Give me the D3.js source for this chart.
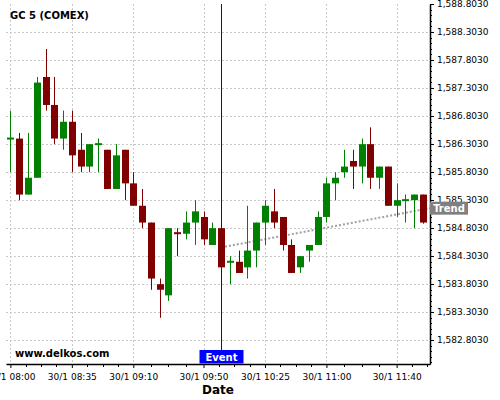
<!DOCTYPE html>
<html><head><meta charset="utf-8">
<script src="https://cdn.jsdelivr.net/npm/d3@7"></script>
<style>
body{margin:0;background:#fff}
svg{display:block}
text{font-family:"DejaVu Sans",sans-serif}
</style>
</head><body>
<svg id="chart" width="500" height="400"></svg>
<script>
// ---- data ----
const times = ["08:00","08:05","08:10","08:15","08:20","08:25","08:30","08:35","08:40","08:45","08:50","08:55",
  "09:00","09:05","09:10","09:15","09:20","09:25","09:30","09:35","09:40","09:45","09:50","09:55",
  "10:00","10:05","10:10","10:15","10:20","10:25","10:30","10:35","10:40","10:45","10:50","10:55",
  "11:00","11:05","11:10","11:15","11:20","11:25","11:30","11:35","11:40","11:45","11:50","11:55"];
const opens  = [1586.4,1586.4,1585.4,1585.7,1587.5,1587.0,1586.4,1586.7,1586.2,1585.9,1586.3,1586.2,
  1585.5,1586.2,1585.6,1585.2,1584.9,1583.8,1583.6,1584.72,1584.7,1584.9,1585.0,1584.5,
  1584.8,1584.2,1584.2,1584.1,1584.4,1584.9,1585.1,1585.0,1584.5,1584.1,1584.4,1584.5,
  1585.0,1585.6,1585.8,1586.0,1585.9,1586.3,1585.7,1585.9,1585.2,1585.3,1585.3,1585.4];
const highs  = [1586.9,1586.5,1586.5,1587.5,1588.0,1587.5,1586.9,1586.9,1586.5,1586.3,1586.4,1586.2,
  1586.3,1586.2,1585.8,1585.5,1584.9,1583.9,1584.8,1584.8,1585.1,1585.3,1585.1,1584.9,
  1584.8,1584.3,1584.4,1585.2,1584.9,1585.3,1585.5,1585.0,1584.6,1584.3,1584.5,1585.1,
  1585.7,1585.8,1586.2,1586.2,1586.4,1586.6,1585.9,1585.9,1585.6,1585.4,1585.4,1585.4];
const lows   = [1585.8,1585.3,1585.4,1585.7,1586.9,1586.3,1586.2,1585.8,1585.8,1585.8,1585.8,1585.5,
  1585.5,1585.3,1585.2,1584.8,1583.7,1583.2,1583.5,1584.3,1584.6,1584.5,1584.5,1584.5,
  1584.1,1583.8,1584.0,1583.9,1584.1,1584.5,1584.8,1584.4,1584.0,1584.0,1584.2,1584.5,
  1584.9,1585.3,1585.7,1585.5,1585.6,1585.5,1585.5,1585.2,1585.0,1584.9,1584.8,1584.88];
const closes = [1586.4,1585.4,1585.7,1587.4,1587.0,1586.4,1586.7,1586.1,1585.9,1586.3,1586.3,1585.5,
  1586.1,1585.6,1585.2,1584.9,1583.9,1583.7,1584.8,1584.70,1584.9,1585.1,1584.6,1584.8,
  1584.1,1584.2,1584.0,1584.4,1584.9,1585.2,1584.9,1584.5,1584.0,1584.3,1584.5,1585.0,
  1585.6,1585.7,1585.9,1585.9,1586.3,1585.7,1585.9,1585.2,1585.3,1585.3,1585.4,1584.9];

const xTickTimes  = ["08:00","08:35","09:10","09:50","10:25","11:00","11:40"];
const xTickLabels = ["30/1 08:00","30/1 08:35","30/1 09:10","30/1 09:50","30/1 10:25","30/1 11:00","30/1 11:40"];
const yTickValues = [1582.803,1583.303,1583.803,1584.303,1584.803,1585.303,1585.803,1586.303,1586.803,1587.303,1587.803,1588.303,1588.803];

const eventTime = "10:00";
const eventLabel = "Event";
const trendTimes = ["10:00","11:59"];
const trendValues = [1584.456, 1585.157];
const trendLabel = "Trend";
const title = "GC 5 (COMEX)";
const watermark = "www.delkos.com";
const xTitle = "Date";

// ---- layout ----
const svg = d3.select("#chart");
const pL = 6, pR = 430, pT = 4, pB = 364;
const parseT = d3.timeParse("%H:%M");

const t0 = d3.timeSecond.offset(parseT(times[0]), -150);
const x = d3.scaleTime().domain([t0, parseT("11:59")]).range([pL, pR]);
const y = d3.scaleLinear().domain([1582.3744, 1588.803]).range([pB, pT]);

const xTicks = xTickTimes.map(parseT);

// minor x ticks: 4 subdivisions between majors
const xMinor = [];
for (let i = 0; i < xTicks.length; i++) {
  const a = xTicks[i];
  const b = i < xTicks.length - 1 ? xTicks[i+1] : new Date(+a + 35*60000);
  const step = (b - a) / 4;
  for (let k = 1; k < 4; k++) {
    const m = new Date(+a + k*step);
    if (x(m) <= pR) xMinor.push(m);
  }
}
const yMinor = d3.range(1582.403, 1588.81, 0.1);

// grid
const grid = svg.append("g").attr("stroke", "#c8c8c8").attr("stroke-dasharray", "2,2").attr("stroke-width", 1);
grid.selectAll(".h").data(yTickValues.filter(v => y(v) > pT + 1)).join("line")
  .attr("x1", pL).attr("x2", pR)
  .attr("y1", d => Math.round(y(d)) + 0.5).attr("y2", d => Math.round(y(d)) + 0.5);
grid.selectAll(".v").data(xTicks).join("line")
  .attr("x1", d => Math.round(x(d)) + 0.5).attr("x2", d => Math.round(x(d)) + 0.5)
  .attr("y1", pT).attr("y2", pB);

// event line
const ex = Math.round(x(parseT(eventTime))) + 0.5;
svg.append("line").attr("x1", ex).attr("x2", ex).attr("y1", pT).attr("y2", 350)
  .attr("stroke", "#0000ff").attr("stroke-width", 1);

// trend line
svg.append("path")
  .attr("d", d3.line().x(d => x(d[0])).y(d => y(d[1]))(trendTimes.map((t, i) => [parseT(t), trendValues[i]])))
  .attr("fill", "none").attr("stroke", "#a0a0a0").attr("stroke-width", 2).attr("stroke-dasharray", "2,2");

// candles
const candles = times.map((t, i) => ({t: parseT(t), o: opens[i], h: highs[i], l: lows[i], c: closes[i]}));
const cg = svg.append("g");
candles.forEach(d => {
  const cx = Math.round(x(d.t)) + 0.5;
  const col = d.c >= d.o ? "#008000" : "#800000";
  cg.append("line").attr("x1", cx).attr("x2", cx).attr("y1", y(d.h)).attr("y2", y(d.l))
    .attr("stroke", col).attr("stroke-width", 1);
  const yt = y(Math.max(d.o, d.c)), yb = y(Math.min(d.o, d.c));
  let h = yb - yt, yy = yt;
  if (h < 2) { yy = (yt + yb) / 2 - 1; h = 2; }
  cg.append("rect").attr("x", cx - 3.5).attr("y", yy).attr("width", 7).attr("height", h).attr("fill", col);
});

// axes
const yAxis = svg.append("g").attr("transform", `translate(${pR},0)`)
  .call(d3.axisRight(y).tickValues(yTickValues).tickFormat(d3.format(",.4f")).tickSize(4).tickSizeOuter(0).tickPadding(3));
yAxis.selectAll("text").attr("font-size", 9).attr("font-family", "DejaVu Sans").attr("fill", "#000");
svg.append("g").attr("transform", `translate(${pR},0)`).selectAll("line").data(yMinor).join("line")
  .attr("x1", 0).attr("x2", 2).attr("y1", d => Math.round(y(d)) + 0.5).attr("y2", d => Math.round(y(d)) + 0.5)
  .attr("stroke", "#000");

const xAxis = svg.append("g").attr("transform", `translate(0,${pB})`)
  .call(d3.axisBottom(x).tickValues(xTicks).tickFormat((d, i) => xTickLabels[i]).tickSize(4).tickSizeOuter(0).tickPadding(6));
xAxis.selectAll("text").attr("font-size", 9).attr("font-family", "DejaVu Sans").attr("fill", "#000");
svg.append("g").attr("transform", `translate(0,${pB})`).selectAll("line").data(xMinor).join("line")
  .attr("x1", d => Math.round(x(d)) + 0.5).attr("x2", d => Math.round(x(d)) + 0.5).attr("y1", 0).attr("y2", 3)
  .attr("stroke", "#000");
svg.selectAll(".domain").attr("stroke", "#000").attr("stroke-width", 1.5);

// labels
svg.append("text").attr("x", 10).attr("y", 19).attr("font-size", 10).attr("font-weight", "bold").text(title);
svg.append("text").attr("x", 15).attr("y", 357).attr("font-size", 10).attr("font-weight", "bold").text(watermark);
svg.append("text").attr("x", (pL + pR) / 2).attr("y", 393.5).attr("text-anchor", "middle")
  .attr("font-size", 12).attr("font-weight", "bold").text(xTitle);

// event label
svg.append("rect").attr("x", ex - 22).attr("y", 350).attr("width", 44).attr("height", 13.5).attr("fill", "#0000ff");
svg.append("text").attr("x", ex).attr("y", 361).attr("text-anchor", "middle").attr("font-size", 10)
  .attr("font-weight", "bold").attr("fill", "#fff").text(eventLabel);

// trend label
const ty = y(trendValues[1]);
svg.append("rect").attr("x", pR).attr("y", ty - 6.5).attr("width", 38).attr("height", 13).attr("fill", "#808080");
svg.append("text").attr("x", pR + 19).attr("y", ty + 4).attr("text-anchor", "middle").attr("font-size", 10)
  .attr("font-weight", "bold").attr("fill", "#fff").text(trendLabel);
</script>
</body></html>
